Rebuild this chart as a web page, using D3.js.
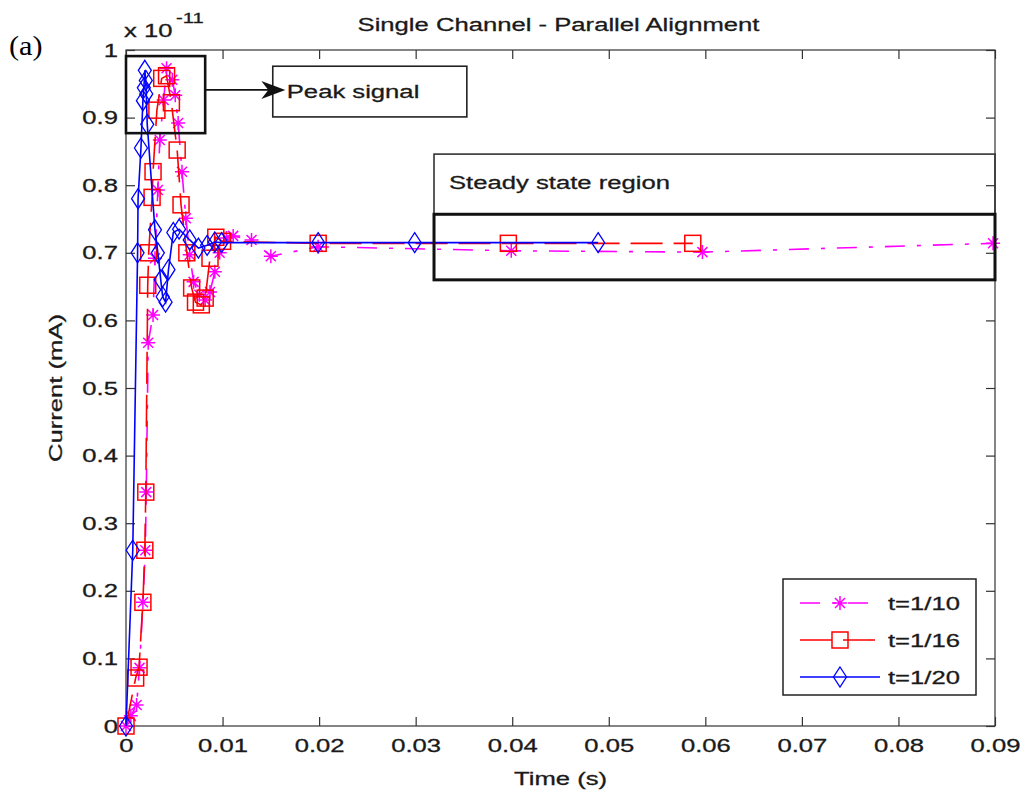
<!DOCTYPE html>
<html><head><meta charset="utf-8">
<script src="https://cdn.jsdelivr.net/npm/d3@7"></script>
<style>body{margin:0;background:#fff}svg{display:block}</style>
</head><body>
<script>
// ---- data ----
const xTicks = [0,0.01,0.02,0.03,0.04,0.05,0.06,0.07,0.08,0.09];
const xTickLabels = ["0","0.01","0.02","0.03","0.04","0.05","0.06","0.07","0.08","0.09"];
const yTicks = [0,0.1,0.2,0.3,0.4,0.5,0.6,0.7,0.8,0.9,1];
const yTickLabels = ["0","0.1","0.2","0.3","0.4","0.5","0.6","0.7","0.8","0.9","1"];

const seriesNames = ["t=1/10","t=1/16","t=1/20"];

const t10_x = [0,0.0005,0.0011,0.0014,0.00175,0.002,0.0021,0.0023,0.0028,0.003,0.0033,0.0035,0.0039,0.0042,0.0048,0.0051,0.0054,0.0058,0.0062,0.0066,0.007,0.0076,0.0082,0.0087,0.0092,0.0097,0.0104,0.0111,0.013,0.015,0.0199,0.0399,0.0597,0.0898];
const t10_y = [0,0.015,0.031,0.086,0.183,0.26,0.346,0.567,0.608,0.692,0.793,0.867,0.926,0.973,0.956,0.933,0.892,0.82,0.751,0.697,0.657,0.638,0.63,0.642,0.672,0.70,0.722,0.725,0.719,0.695,0.709,0.703,0.701,0.714];

const t16_x = [0,0.001,0.00135,0.00175,0.00195,0.00205,0.00225,0.00235,0.0027,0.0028,0.0032,0.0037,0.0042,0.0047,0.0053,0.0057,0.0063,0.0068,0.0072,0.0078,0.0082,0.0087,0.0093,0.0100,0.0199,0.0396,0.0587];
const t16_y = [0,0.071,0.087,0.183,0.26,0.346,0.652,0.70,0.782,0.82,0.911,0.958,0.962,0.922,0.852,0.771,0.70,0.648,0.627,0.623,0.633,0.692,0.723,0.717,0.714,0.714,0.714];

const t20_x = [0,0.0007,0.0012,0.00125,0.00155,0.00175,0.00185,0.00195,0.00205,0.0021,0.0022,0.003,0.0033,0.0036,0.0038,0.0041,0.0044,0.0049,0.0055,0.0066,0.0075,0.0084,0.0092,0.0099,0.0199,0.0299,0.0489];
const t20_y = [0,0.26,0.70,0.78,0.855,0.925,0.944,0.97,0.955,0.935,0.89,0.734,0.70,0.66,0.635,0.627,0.675,0.73,0.735,0.719,0.707,0.711,0.716,0.715,0.715,0.715,0.715];

// annotations (data units)
const peakBoxX = [0, 0.0082], peakBoxY = [0.991, 0.877];
const arrowX = [0.0082, 0.0165], arrowY = 0.941;
const peakLabelX = [0.0152, 0.0353], peakLabelY = [0.976, 0.901];
const steadyLabelX = [0.0319, 0.09], steadyLabelY = [0.846, 0.757];
const steadyRectX = [0.0319, 0.09], steadyRectY = [0.757, 0.660];

// ---- drawing ----
const W = 1026, H = 799;
const SX = 1.35, FS = 19, FONT = "'Liberation Sans', Arial, Helvetica, sans-serif", TC = "#1a1a1a";
const svg = d3.select("body").append("svg").attr("width", W).attr("height", H);
svg.append("rect").attr("width", W).attr("height", H).attr("fill", "#fff");

const x = d3.scaleLinear().domain([0, 0.09]).range([126, 995]);
const y = d3.scaleLinear().domain([0, 1]).range([726, 50]);

function txt(px, py, s, opt = {}) {
  const t = svg.append("text")
    .attr("transform", `translate(${px},${py}) ${opt.rot ? "rotate(" + opt.rot + ")" : ""} scale(${opt.sx || SX},1)`)
    .attr("text-anchor", opt.anchor || "start")
    .attr("font-family", opt.font || FONT)
    .attr("font-size", opt.fs || FS)
    .attr("fill", opt.fill || TC)
    .attr("stroke", opt.fill || TC).attr("stroke-width", opt.sw === undefined ? 0.3 : opt.sw)
    .text(s);
  if (opt.dy) t.attr("dy", opt.dy);
  return t;
}

// frame
svg.append("rect").attr("x", x(0)).attr("y", y(1)).attr("width", x(0.09) - x(0)).attr("height", y(0) - y(1))
  .attr("fill", "none").attr("stroke", "#333").attr("stroke-width", 1.2);

// axes
const fmtX = d => xTickLabels[xTicks.indexOf(d)];
const fmtY = d => yTickLabels[yTicks.indexOf(d)];
const gx = svg.append("g").attr("transform", `translate(0,${y(0)})`)
  .call(d3.axisBottom(x).tickValues(xTicks).tickFormat(fmtX).tickSizeInner(-9).tickSizeOuter(0).tickPadding(13));
const gy = svg.append("g").attr("transform", `translate(${x(0)},0)`)
  .call(d3.axisLeft(y).tickValues(yTicks).tickFormat(fmtY).tickSizeInner(-9).tickSizeOuter(0).tickPadding(6));
svg.append("g").attr("transform", `translate(0,${y(1)})`)
  .call(d3.axisTop(x).tickValues(xTicks).tickFormat("").tickSizeInner(-9).tickSizeOuter(0));
svg.append("g").attr("transform", `translate(${x(0.09)},0)`)
  .call(d3.axisRight(y).tickValues(yTicks).tickFormat("").tickSizeInner(-9).tickSizeOuter(0));
svg.selectAll(".domain").remove();
svg.selectAll(".tick line").attr("stroke", "#333").attr("stroke-width", 1.2);
svg.selectAll(".tick text").attr("font-family", FONT).attr("font-size", FS).attr("fill", TC)
  .attr("stroke", TC).attr("stroke-width", 0.3);
gx.selectAll(".tick text").attr("transform", `scale(${SX},1)`);
gy.selectAll(".tick text").attr("transform", `scale(${SX},1)`);

// title & labels
txt(x(0.045) - 2, 31, "Single Channel - Parallel Alignment", {anchor: "middle"});
txt(x(0.045), 785, "Time (s)", {anchor: "middle"});
txt(62, y(0.5), "Current (mA)", {anchor: "middle", rot: -90});
txt(124, 37, "x 10", {});
txt(176, 23, "-11", {fs: 15});
txt(9, 55, "(a)", {font: "'Liberation Serif','Times New Roman',serif", fs: 27, sx: 1.12, fill: "#000", sw: 0});

// annotations
function box(xs, ys, sw, col) {
  svg.append("rect").attr("x", x(xs[0])).attr("y", y(ys[0]))
    .attr("width", x(xs[1]) - x(xs[0])).attr("height", y(ys[1]) - y(ys[0]))
    .attr("fill", "none").attr("stroke", col).attr("stroke-width", sw);
}
box(peakLabelX, peakLabelY, 1.6, "#222");
txt(x(peakLabelX[0]) + 14, y((peakLabelY[0] + peakLabelY[1]) / 2) + 6, "Peak signal");
box(steadyLabelX, steadyLabelY, 1.6, "#333");
txt(x(steadyLabelX[0]) + 15, y((steadyLabelY[0] + steadyLabelY[1]) / 2) + 5, "Steady state region");

// series
const lineGen = d3.line().x(d => x(d[0])).y(d => y(d[1]));
const series = [
  {name: seriesNames[0], xs: t10_x, ys: t10_y, color: "#ff00ff", dash: "20,12,4,12", marker: "star"},
  {name: seriesNames[1], xs: t16_x, ys: t16_y, color: "#ff0000", dash: "32,11", marker: "square"},
  {name: seriesNames[2], xs: t20_x, ys: t20_y, color: "#0000ff", dash: null, marker: "diamond"}
];

function drawMarker(g, type, cx, cy, color) {
  if (type === "star") {
    const r = 7, rd = 5;
    g.append("path").attr("d",
      `M${cx - r},${cy}L${cx + r},${cy}M${cx},${cy - r}L${cx},${cy + r}` +
      `M${cx - rd},${cy - rd}L${cx + rd},${cy + rd}M${cx - rd},${cy + rd}L${cx + rd},${cy - rd}`)
      .attr("stroke", color).attr("stroke-width", 1.5).attr("fill", "none");
  } else if (type === "square") {
    g.append("rect").attr("x", cx - 8).attr("y", cy - 8).attr("width", 16).attr("height", 16)
      .attr("fill", "none").attr("stroke", color).attr("stroke-width", 1.5);
  } else {
    g.append("path").attr("d", `M${cx},${cy - 10}L${cx + 6.5},${cy}L${cx},${cy + 10}L${cx - 6.5},${cy}Z`)
      .attr("fill", "none").attr("stroke", color).attr("stroke-width", 1.3);
  }
}

series.forEach(s => {
  const pts = s.xs.map((v, i) => [v, s.ys[i]]);
  const g = svg.append("g");
  g.append("path").datum(pts).attr("d", lineGen).attr("fill", "none")
    .attr("stroke", s.color).attr("stroke-width", 1.6)
    .attr("stroke-dasharray", s.dash);
  pts.forEach(p => drawMarker(g, s.marker, x(p[0]), y(p[1]), s.color));
});

// annotation boxes drawn over
box(peakBoxX, peakBoxY, 2.6, "#111");
box(steadyRectX, steadyRectY, 3, "#111");
// arrow
const ax0 = x(arrowX[0]), ax1 = x(arrowX[1]), ay = y(arrowY);
svg.append("line").attr("x1", ax0).attr("x2", ax1 - 10).attr("y1", ay).attr("y2", ay)
  .attr("stroke", "#111").attr("stroke-width", 1.8);
svg.append("path").attr("d", `M${ax1},${ay}L${ax1 - 24},${ay - 9}L${ax1 - 17},${ay}L${ax1 - 24},${ay + 9}Z`)
  .attr("fill", "#111");

// legend
const lg = svg.append("g");
lg.append("rect").attr("x", 783).attr("y", 579).attr("width", 193).attr("height", 116)
  .attr("fill", "#fff").attr("stroke", "#222").attr("stroke-width", 1.5);
series.forEach((s, i) => {
  const ly = 603 + i * 37;
  lg.append("line").attr("x1", 800).attr("x2", 880).attr("y1", ly).attr("y2", ly)
    .attr("stroke", s.color).attr("stroke-width", 1.6).attr("stroke-dasharray", s.dash);
  drawMarker(lg, s.marker, 840, ly, s.color);
  txt(888, ly + 7, s.name);
});
</script>
</body></html>
